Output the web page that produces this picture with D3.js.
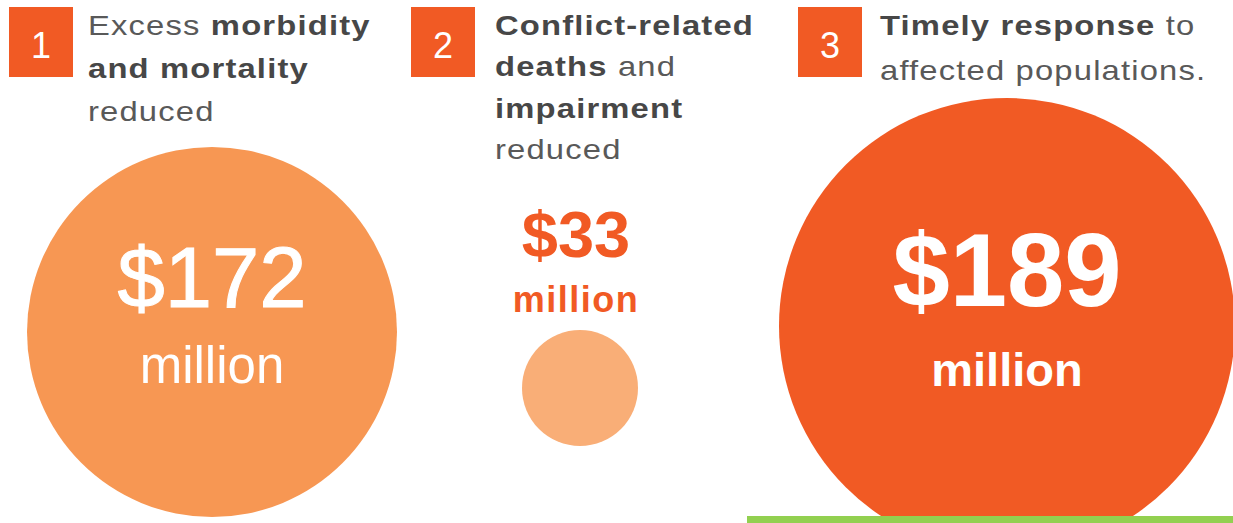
<!DOCTYPE html>
<html>
<head>
<meta charset="utf-8">
<script src="https://cdn.jsdelivr.net/npm/d3@7"></script>
<style>
  html, body { margin: 0; padding: 0; background: #ffffff; }
  svg { display: block; font-family: "Liberation Sans", Arial, sans-serif; }
  .desc { font-size: 28px; fill: #595959; letter-spacing: 1px; }
  .desc .b { font-weight: 700; fill: #474747; }
</style>
</head>
<body>
<div id="chart"></div>
<script>
const WIDTH = 1233;
const HEIGHT = 523;

// data
const steps = ['1', '2', '3'];
const amounts = [172, 33, 189];
const unitLabel = 'million';
const descriptions = [
  [[['Excess ', 0], ['morbidity', 1]], [['and mortality', 1]], [['reduced', 0]]],
  [[['Conflict-related', 1]], [['deaths', 1], [' and', 0]], [['impairment', 1]], [['reduced', 0]]],
  [[['Timely response', 1], [' to', 0]], [['affected populations.', 0]]]
];
const circleColors = ['#f79753', '#f9ae77', '#f15a24'];

const accent = '#f15a24';

// the picture is not drawn to scale, so the radius scale is piecewise
const rScale = d3.scaleLinear().domain([0, 33, 172, 189]).range([0, 58, 185, 228]);
const cx = d3.scaleOrdinal().domain(steps).range([212, 580, 1007]);
const cy = d3.scaleOrdinal().domain(steps).range([332, 388, 326]);
const colX = d3.scaleOrdinal().domain(steps).range([9, 411, 798]);

const svg = d3.select('#chart')
  .append('svg')
  .attr('width', WIDTH)
  .attr('height', HEIGHT);

const items = steps.map((s, i) => ({ step: s, value: amounts[i], lines: descriptions[i], color: circleColors[i] }));

// circles
svg.append('g')
  .selectAll('circle')
  .data(items)
  .join('circle')
  .attr('cx', (d) => cx(d.step))
  .attr('cy', (d) => cy(d.step))
  .attr('r', (d) => rScale(d.value))
  .attr('fill', (d) => d.color);

// number boxes
const head = svg.append('g')
  .selectAll('g')
  .data(items)
  .join('g')
  .attr('transform', (d) => `translate(${colX(d.step)},7)`);

head.append('rect')
  .attr('width', 64)
  .attr('height', 70)
  .attr('fill', accent);

head.append('text')
  .attr('x', 32)
  .attr('y', 51)
  .attr('text-anchor', 'middle')
  .attr('fill', '#ffffff')
  .style('font-size', '36px')
  .text((d) => d.step);

// descriptions (the source type is wide, so stretch it a little)
const lineGap = [43, 41.5, 45];
const descX = [79, 84, 82];
const descText = head.append('text')
  .attr('class', 'desc')
  .attr('transform', (d, i) => `translate(${descX[i]},28) scale(1.17,1)`);

descText.each(function (d, i) {
  const t = d3.select(this);
  d.lines.forEach((line, li) => {
    line.forEach((seg, si) => {
      const ts = t.append('tspan').attr('class', seg[1] ? 'b' : null).text(seg[0]);
      if (si === 0) ts.attr('x', 0).attr('dy', li === 0 ? 0 : lineGap[i]);
    });
  });
});

// amounts
const big = [
  { size: 85, weight: 400, y: 307, uSize: 51, uWeight: 400, uy: 383, fill: '#ffffff' },
  { size: 65, weight: 700, y: 257, uSize: 36, uWeight: 700, uy: 312, fill: accent },
  { size: 103, weight: 700, y: 306, uSize: 47, uWeight: 700, uy: 386, fill: '#ffffff' }
];

const amt = svg.append('g')
  .selectAll('g')
  .data(items)
  .join('g');

amt.append('text')
  .attr('x', (d) => cx(d.step) + (d.step === '2' ? -4 : 0))
  .attr('y', (d, i) => big[i].y)
  .attr('text-anchor', 'middle')
  .attr('fill', (d, i) => big[i].fill)
  .style('font-size', (d, i) => big[i].size + 'px')
  .style('font-weight', (d, i) => big[i].weight)
  .style('stroke', (d, i) => (i === 0 ? '#ffffff' : 'none'))
  .style('stroke-width', 1)
  .text((d) => '$' + d.value);

amt.append('text')
  .attr('x', (d) => cx(d.step) + (d.step === '2' ? -4 : 0))
  .attr('y', (d, i) => big[i].uy)
  .attr('text-anchor', 'middle')
  .attr('fill', (d, i) => big[i].fill)
  .style('font-size', (d, i) => big[i].uSize + 'px')
  .style('font-weight', (d, i) => big[i].uWeight)
  .style('letter-spacing', (d, i) => (i === 1 ? '1.5px' : '0px'))
  .text(unitLabel);

// green rule bottom right
svg.append('rect')
  .attr('x', 747)
  .attr('y', 516)
  .attr('width', WIDTH - 747)
  .attr('height', 7)
  .attr('fill', '#92d050');
</script>
</body>
</html>
